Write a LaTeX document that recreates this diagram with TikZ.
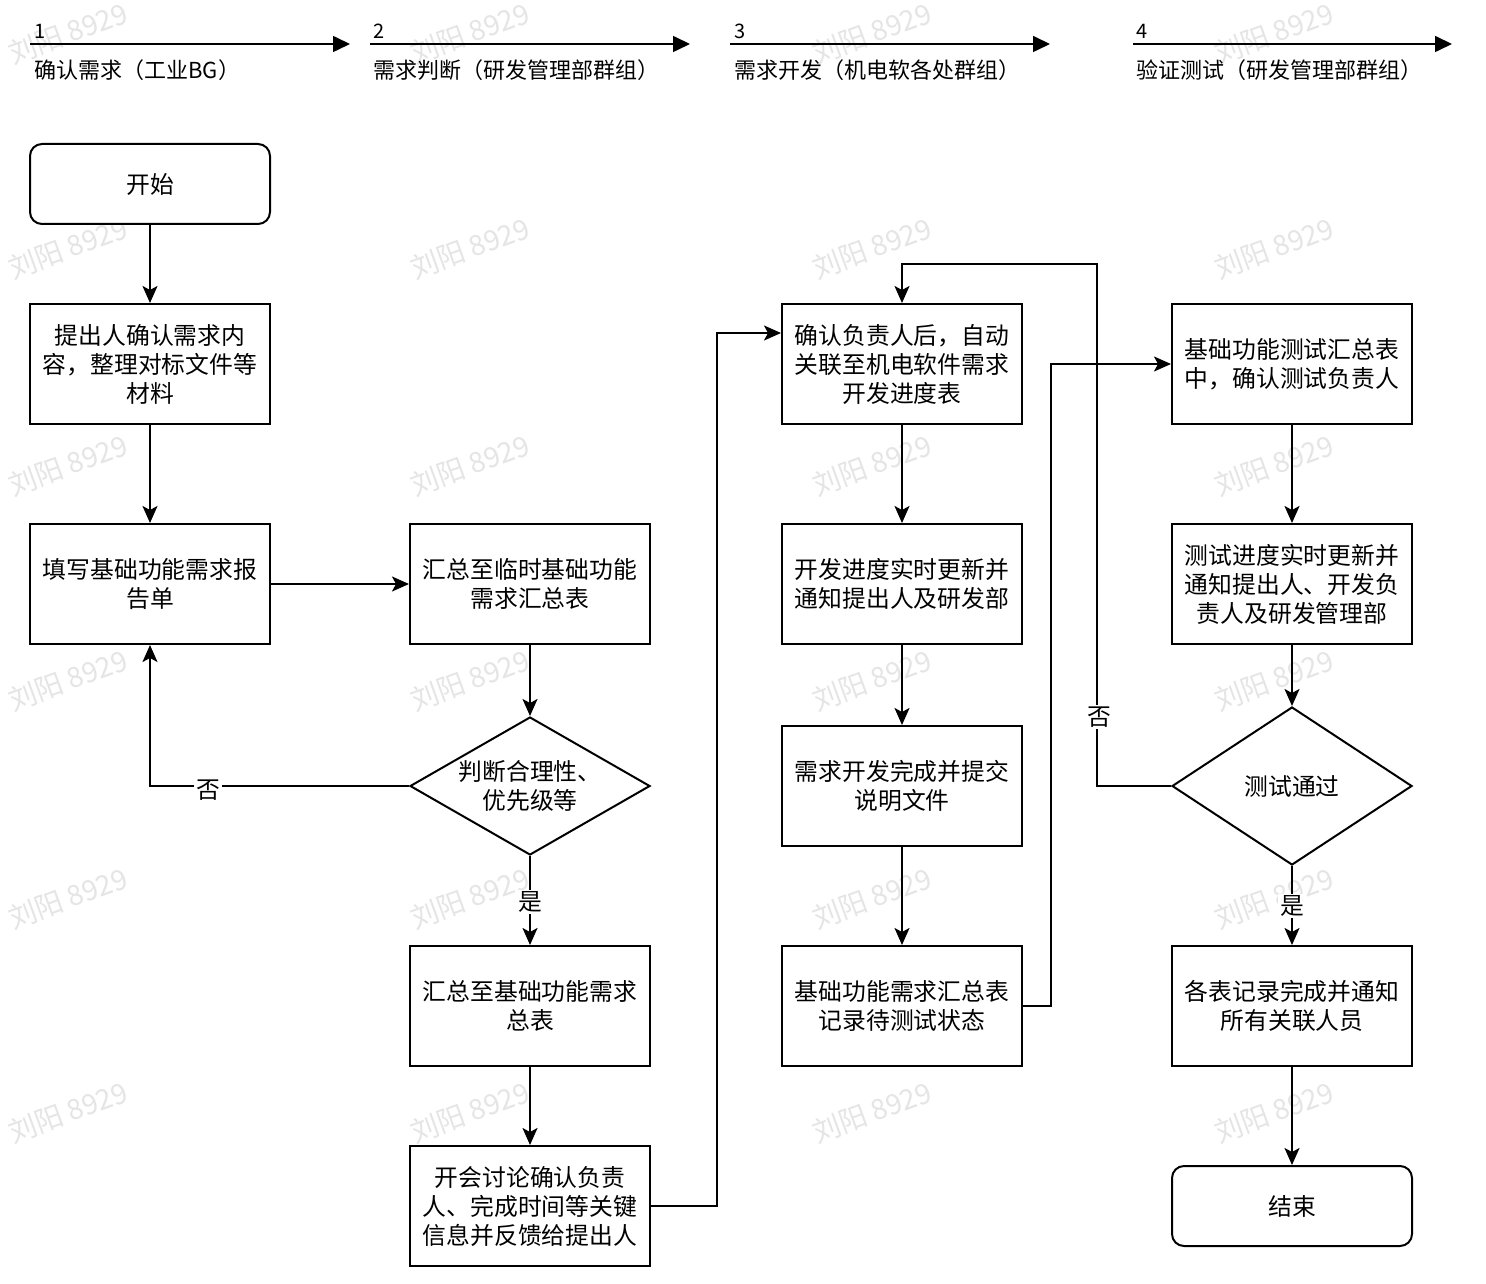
\documentclass[tikz,border=0pt]{standalone}
\usepackage{fontspec}
\setmainfont{Noto Sans CJK SC}
\usetikzlibrary{shapes.geometric,arrows.meta,calc}
\begin{document}
\begin{tikzpicture}[x=0.5pt,y=-0.5pt,
  box/.style={draw=black, line width=1pt, fill=white, minimum width=120pt, minimum height=60pt,
    inner sep=2pt, align=center, font=\fontsize{11.9}{14.5}\selectfont},
  term/.style={box, rounded corners=6pt, minimum height=40pt},
  dec/.style={draw=black, line width=1pt, fill=white, diamond, inner sep=0pt, aspect=1.7},
  dtext/.style={align=center, font=\fontsize{11.9}{14.5}\selectfont},
  arr/.style={line width=1pt, draw=black, -{Stealth[length=8.5pt,width=7.5pt,inset=2pt]}},
  harr/.style={line width=0.8pt, -{Triangle[length=8.5pt,width=8pt]}},
  lbl/.style={fill=white, inner sep=1pt, font=\fontsize{11.9}{13}\selectfont},
  hnum/.style={anchor=west, inner sep=0pt, font=\fontsize{10}{12}\selectfont},
  htxt/.style={anchor=west, inner sep=0pt, font=\fontsize{11}{12}\selectfont},
  wm/.style={text=black!10, rotate=20, font=\fontsize{14}{15}\selectfont}
]
\useasboundingbox (0,0) rectangle (1486,1283);
\fill[white] (0,0) rectangle (1486,1283);

% watermarks
\foreach \wx in {68,470,872,1274}{
  \foreach \wy in {33,248,465,680,898,1112}{
    \node[wm] (w-\wx-\wy) at (\wx,\wy) {刘阳 8929};
  }
}

% header
\coordinate (h1s) at (30,44);  \coordinate (h1e) at (350,44);
\coordinate (h2s) at (370,44); \coordinate (h2e) at (690,44);
\coordinate (h3s) at (730,44); \coordinate (h3e) at (1050,44);
\coordinate (h4s) at (1133,44);\coordinate (h4e) at (1452,44);
\draw[harr] (h1s) -- (h1e);
\draw[harr] (h2s) -- (h2e);
\draw[harr] (h3s) -- (h3e);
\draw[harr] (h4s) -- (h4e);
\node[hnum] (hn1) at (34,31) {1};
\node[hnum] (hn2) at (373,31) {2};
\node[hnum] (hn3) at (734,31) {3};
\node[hnum] (hn4) at (1136,31) {4};
\node[htxt] (ht1) at (34,70) {确认需求（工业BG）};
\node[htxt] (ht2) at (373,70) {需求判断（研发管理部群组）};
\node[htxt] (ht3) at (734,70) {需求开发（机电软各处群组）};
\node[htxt] (ht4) at (1136,70) {验证测试（研发管理部群组）};

% column 1
\node[term] (start) at (150,184) {开始};
\node[box] (n1) at (150,364) {提出人确认需求内\\容，整理对标文件等\\材料};
\node[box] (n2) at (150,584) {填写基础功能需求报\\告单};
% column 2
\node[box] (n3) at (530,584) {汇总至临时基础功能\\需求汇总表};
\node[dec, minimum width=120pt, minimum height=69pt] (d1) at (530,786) {};
\node[dtext] (d1t) at (530,786) {判断合理性、\\优先级等};
\node[box] (n4) at (530,1006) {汇总至基础功能需求\\总表};
\node[box] (n5) at (530,1206) {开会讨论确认负责\\人、完成时间等关键\\信息并反馈给提出人};
% column 3
\node[box] (n6) at (902,364) {确认负责人后，自动\\关联至机电软件需求\\开发进度表};
\node[box] (n7) at (902,584) {开发进度实时更新并\\通知提出人及研发部};
\node[box] (n8) at (902,786) {需求开发完成并提交\\说明文件};
\node[box] (n9) at (902,1006) {基础功能需求汇总表\\记录待测试状态};
% column 4
\node[box] (n10) at (1292,364) {基础功能测试汇总表\\中，确认测试负责人};
\node[box] (n11) at (1292,584) {测试进度实时更新并\\通知提出人、开发负\\责人及研发管理部};
\node[dec, minimum width=120pt, minimum height=79pt] (d2) at (1292,786) {};
\node[dtext] (d2t) at (1292,786) {测试通过};
\node[box] (n12) at (1292,1006) {各表记录完成并通知\\所有关联人员};
\node[term] (end) at (1292,1206) {结束};

% connectors
\draw[arr] (start) -- (n1);
\draw[arr] (n1) -- (n2);
\draw[arr] (n2) -- (n3);
\draw[arr] (n3) -- (d1);
\draw[arr] (d1.west) -| (n2.south);
\draw[arr] (d1.south) -- (n4.north);
\draw[arr] (n4) -- (n5);
\draw[arr] (n5.east) -- ++(66,0) |- ([yshift=-15pt]n6.north west);
\draw[arr] (n6) -- (n7);
\draw[arr] (n7) -- (n8);
\draw[arr] (n8) -- (n9);
\draw[arr] (n9.east) -- ++(28,0) |- (n10.west);
\draw[arr] (n10) -- (n11);
\draw[arr] (n11) -- (d2.north);
\draw[arr] (d2.west) -- ++(-74,0) -- ++(0,-522) -| (n6.north);
\draw[arr] (d2.south) -- (n12.north);
\draw[arr] (n12) -- (end);

% labels
\node[lbl] (no1) at (208,790) {否};
\node[lbl] (yes1) at (530,902) {是};
\node[lbl] (no2) at (1099,717) {否};
\node[lbl] (yes2) at (1292,906) {是};
\end{tikzpicture}
\end{document}
